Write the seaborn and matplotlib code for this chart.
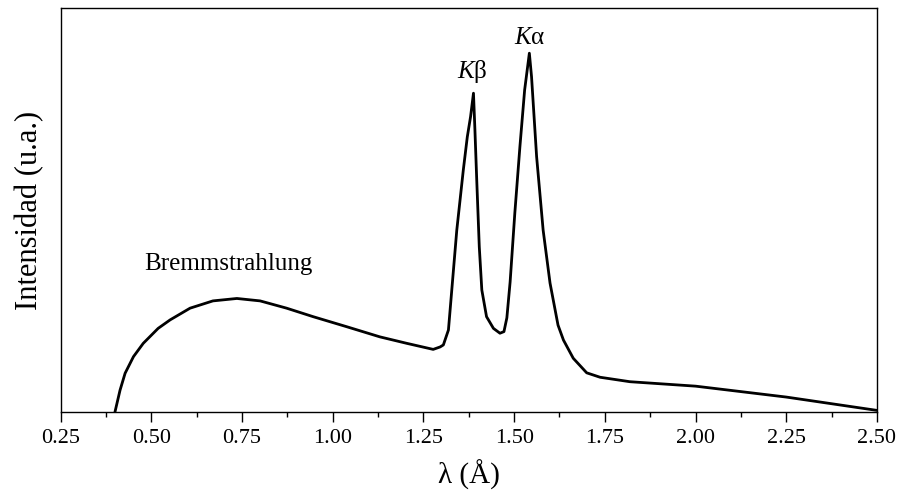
import matplotlib
matplotlib.use("Agg")
import matplotlib.pyplot as plt
import seaborn as sns
import pandas as pd
from matplotlib.ticker import MultipleLocator

# Data (wavelength in Å, intensity in arbitrary units)
wavelength = [0.400, 0.414, 0.428, 0.451, 0.478, 0.519, 0.552, 0.607, 0.670, 0.736,
              0.800, 0.873, 0.946, 1.039, 1.130, 1.204, 1.277, 1.296, 1.305, 1.319,
              1.342, 1.360, 1.371, 1.380, 1.388, 1.392, 1.397, 1.404, 1.411, 1.424,
              1.443, 1.461, 1.472, 1.480, 1.489, 1.502, 1.516, 1.529, 1.542, 1.548,
              1.562, 1.580, 1.599, 1.621, 1.636, 1.663, 1.700, 1.737, 1.819, 2.000,
              2.250, 2.500]
intensity = [0.0, 5.4, 9.6, 13.7, 17.0, 20.7, 22.8, 25.7, 27.5, 28.1,
             27.5, 25.7, 23.6, 21.1, 18.6, 17.0, 15.5, 16.1, 16.6, 20.3,
             45.0, 59.9, 68.1, 73.1, 78.9, 69.8, 57.4, 40.9, 30.2, 23.6,
             20.7, 19.5, 19.9, 23.3, 32.2, 49.3, 65.7, 79.7, 88.8, 83.0,
             63.2, 45.0, 31.9, 21.5, 17.8, 13.3, 9.7, 8.6, 7.5, 6.4,
             3.7, 0.4]
x_ticks = [0.25, 0.50, 0.75, 1.00, 1.25, 1.50, 1.75, 2.00, 2.25, 2.50]
x_tick_labels = ["0.25", "0.50", "0.75", "1.00", "1.25", "1.50", "1.75", "2.00", "2.25", "2.50"]
annotations = ["Bremmstrahlung", "$K$β", "$K$α"]
annotation_pos = [(0.714, 36.6), (1.386, 84.2), (1.543, 92.6)]

df = pd.DataFrame({"wavelength": wavelength, "intensity": intensity})

sns.set_style("ticks")
plt.rcParams["font.family"] = ["Liberation Serif", "DejaVu Serif"]
plt.rcParams["mathtext.fontset"] = "custom"
plt.rcParams["mathtext.rm"] = "Liberation Serif"
plt.rcParams["mathtext.it"] = "Liberation Serif:italic"
plt.rcParams["text.color"] = "black"
plt.rcParams["axes.labelcolor"] = "black"
plt.rcParams["xtick.color"] = "black"
plt.rcParams["ytick.color"] = "black"

fig, ax = plt.subplots(figsize=(8.98, 4.97), dpi=100)
fig.subplots_adjust(left=0.0674, right=0.9766, top=0.984, bottom=0.171)

sns.lineplot(data=df, x="wavelength", y="intensity", ax=ax, color="black",
             linewidth=2.0, sort=False)

ax.set_xlim(0.25, 2.50)
ax.set_ylim(0, 100)
ax.set_xticks(x_ticks)
ax.set_xticklabels(x_tick_labels)
ax.xaxis.set_minor_locator(MultipleLocator(0.125))
ax.tick_params(axis="x", which="major", direction="out", length=7, width=1.0,
               labelsize=16, colors="black", pad=5)
ax.tick_params(axis="x", which="minor", direction="out", length=3.5, width=1.0)
ax.set_yticks([])
for s in ax.spines.values():
    s.set_visible(True)
    s.set_linewidth(1.0)
    s.set_color("black")

ax.set_xlabel("λ (Å)", fontsize=21, labelpad=9)
ax.set_ylabel("Intensidad (u.a.)", fontsize=22, labelpad=12)

for txt, (xx, yy) in zip(annotations, annotation_pos):
    ax.text(xx, yy, txt, ha="center", va="center", fontsize=18)

fig.savefig("out.png", dpi=100)
